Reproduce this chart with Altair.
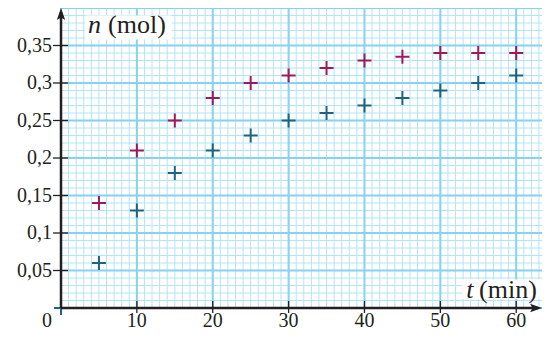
import altair as alt
import pandas as pd

# ---- data ----
t_values = [0, 5, 10, 15, 20, 25, 30, 35, 40, 45, 50, 55, 60]
n_magenta = [0.0, 0.14, 0.21, 0.25, 0.28, 0.30, 0.31, 0.32, 0.33, 0.335, 0.34, 0.34, 0.34]
n_teal = [0.0, 0.06, 0.13, 0.18, 0.21, 0.23, 0.25, 0.26, 0.27, 0.28, 0.29, 0.30, 0.31]

x_ticks = [10, 20, 30, 40, 50, 60]
x_labels = ["10", "20", "30", "40", "50", "60"]
y_ticks = [0.05, 0.10, 0.15, 0.20, 0.25, 0.30, 0.35]
y_labels = ["0,05", "0,1", "0,15", "0,2", "0,25", "0,3", "0,35"]

x_minor = list(range(0, 64))
y_minor = [i / 100 for i in range(0, 41)]
x_major = [0, 10, 20, 30, 40, 50, 60]
y_major = [0.0, 0.05, 0.10, 0.15, 0.20, 0.25, 0.30, 0.35, 0.40]

W, H = 481, 300
FONT = "Liberation Serif"
TXT = "#231f20"
MAGENTA = "#9b1b5c"
TEAL = "#1b6580"

xs = alt.Scale(domain=[0, 63.4], nice=False, zero=False)
ys = alt.Scale(domain=[0, 0.4], nice=False, zero=False)
X = lambda f="t": alt.X(f"{f}:Q", scale=xs, axis=None)
Y = lambda f="n": alt.Y(f"{f}:Q", scale=ys, axis=None)

vminor = alt.Chart(pd.DataFrame({"t": x_minor})).mark_rule(color="#b3e4f8", strokeWidth=1).encode(x=X())
hminor = alt.Chart(pd.DataFrame({"n": y_minor})).mark_rule(color="#b3e4f8", strokeWidth=1).encode(y=Y())
vmajor = alt.Chart(pd.DataFrame({"t": x_major})).mark_rule(color="#86d2f1", strokeWidth=2).encode(x=X())
hmajor = alt.Chart(pd.DataFrame({"n": y_major})).mark_rule(color="#86d2f1", strokeWidth=2).encode(y=Y())

# white boxes behind the axis titles
boxes = alt.Chart(pd.DataFrame({
    "t": [3.2, 52.9], "t2": [14.6, 63.4], "n": [0.39, 0.038], "n2": [0.358, 0.012]
})).mark_rect(color="white", opacity=1).encode(x=X(), x2="t2:Q", y=Y(), y2="n2:Q")

plus = "M-1,0L1,0M0,-1L0,1"
df_m = pd.DataFrame({"t": t_values, "n": n_magenta})
df_t = pd.DataFrame({"t": t_values, "n": n_teal})
pts_m = alt.Chart(df_m).mark_point(shape=plus, filled=False, color=MAGENTA, size=196, strokeWidth=2, opacity=1).encode(x=X(), y=Y())
pts_t = alt.Chart(df_t).mark_point(shape=plus, filled=False, color=TEAL, size=196, strokeWidth=2, opacity=1).encode(x=X(), y=Y())

# axes lines
yaxis = alt.Chart(pd.DataFrame({"a": [0]})).mark_rule(color=TXT, strokeWidth=2.5).encode(
    x=alt.value(0), y=alt.value(4), y2=alt.value(H))
xaxis = alt.Chart(pd.DataFrame({"a": [0]})).mark_rule(color=TXT, strokeWidth=2.5).encode(
    x=alt.value(0), x2=alt.value(W - 4), y=alt.value(H))
arrow_up = alt.Chart(pd.DataFrame({"a": [0]})).mark_point(
    shape="M0,-1L0.6,0.7L0,0.35L-0.6,0.7Z", filled=True, color=TXT, size=196, opacity=1
).encode(x=alt.value(0), y=alt.value(7))
arrow_right = alt.Chart(pd.DataFrame({"a": [0]})).mark_point(
    shape="M1,0L-0.7,0.6L-0.35,0L-0.7,-0.6Z", filled=True, color=TXT, size=196, opacity=1
).encode(x=alt.value(W - 7), y=alt.value(H))

# ticks and tick labels
df_yt = pd.DataFrame({"n": y_ticks, "lab": y_labels})
df_xt = pd.DataFrame({"t": x_ticks, "lab": x_labels})
yt = alt.Chart(df_yt).mark_rule(color=TXT, strokeWidth=1.3).encode(y=Y(), x=alt.value(-8), x2=alt.value(7))
xt = alt.Chart(df_xt).mark_rule(color=TXT, strokeWidth=1.3).encode(x=X(), y=alt.value(H - 7), y2=alt.value(H + 5))
ylab = alt.Chart(df_yt).mark_text(font=FONT, fontSize=20, color=TXT, align="right", baseline="middle", dx=-9).encode(
    y=Y(), x=alt.value(0), text="lab:N")
xlab = alt.Chart(df_xt).mark_text(font=FONT, fontSize=20, color=TXT, align="center", baseline="middle").encode(
    x=X(), y=alt.value(H + 13), text="lab:N")
zero = alt.Chart(pd.DataFrame({"t": [0], "lab": ["0"]})).mark_text(
    font=FONT, fontSize=20, color=TXT, align="center", baseline="middle", dx=-14).encode(
    x=X(), y=alt.value(H + 13), text="lab:N")

# axis titles
n_it = alt.Chart(pd.DataFrame({"t": [3.55], "n": [0.377], "lab": ["n"]})).mark_text(
    font=FONT, fontSize=26, fontStyle="italic", color=TXT, align="left", baseline="middle").encode(
    x=X(), y=Y(), text="lab:N")
n_un = alt.Chart(pd.DataFrame({"t": [6.2], "n": [0.377], "lab": ["(mol)"]})).mark_text(
    font=FONT, fontSize=26, color=TXT, align="left", baseline="middle").encode(
    x=X(), y=Y(), text="lab:N")
t_it = alt.Chart(pd.DataFrame({"t": [53.4], "n": [0.024], "lab": ["t"]})).mark_text(
    font=FONT, fontSize=26, fontStyle="italic", color=TXT, align="left", baseline="middle").encode(
    x=X(), y=Y(), text="lab:N")
t_un = alt.Chart(pd.DataFrame({"t": [55.1], "n": [0.024], "lab": ["(min)"]})).mark_text(
    font=FONT, fontSize=26, color=TXT, align="left", baseline="middle").encode(
    x=X(), y=Y(), text="lab:N")

chart = alt.layer(
    vminor, hminor, vmajor, hmajor, boxes,
    pts_m, pts_t,
    yaxis, xaxis, arrow_up, arrow_right,
    yt, xt, ylab, xlab, zero,
    n_it, n_un, t_it, t_un,
).properties(
    width=W, height=H,
    autosize=alt.AutoSizeParams(type="none"),
    padding={"left": 53, "top": 0, "right": 0, "bottom": 24},
    background="white",
).configure_view(stroke=None)

chart.save("out.html", embed_options={"renderer": "svg", "actions": False})
